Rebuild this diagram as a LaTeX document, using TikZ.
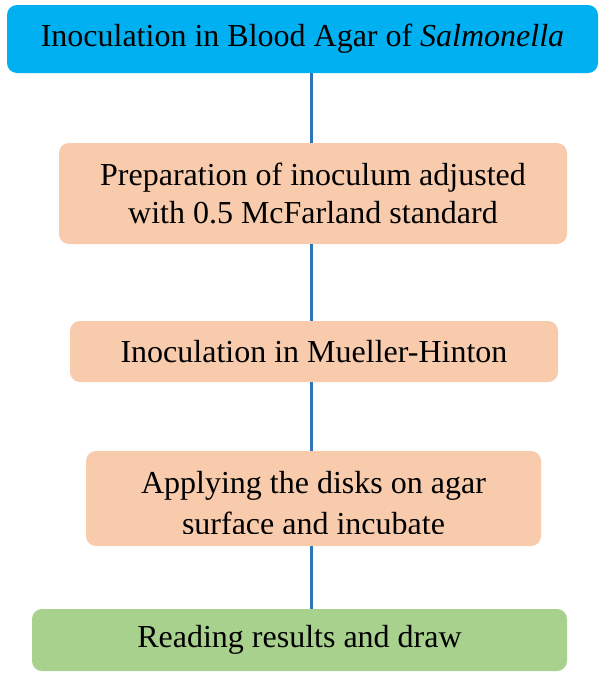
\documentclass[tikz,border=0pt]{standalone}
\usepackage{fontspec}
\setmainfont{Liberation Serif}
\definecolor{topblue}{HTML}{00B0F0}
\definecolor{peach}{HTML}{F8CBAD}
\definecolor{leaf}{HTML}{A9D18E}
\definecolor{linkblue}{HTML}{2E75B6}
\tikzset{
  box/.style={rounded corners=10pt, inner sep=0pt, align=center,
    font=\fontsize{32}{38}\selectfont, text=black},
  conn/.style={draw=linkblue, line width=3pt}
}
\begin{document}
\begin{tikzpicture}[x=1pt,y=-1pt]
\useasboundingbox (0,0) rectangle (599,673);
\coordinate (ax) at (311,0);
% boxes
\node[box, fill=topblue, minimum width=591pt, minimum height=68pt] (b1) at (302.5,39)
  {Inoculation in Blood Agar of \textit{Salmonella}};
\node[box, fill=peach, minimum width=508pt, minimum height=101pt] (b2) at (313,193.5)
  {Preparation of inoculum adjusted\\with 0.5 McFarland standard};
\node[box, fill=peach, minimum width=488pt, minimum height=61pt] (b3) at (314,351.5)
  {Inoculation in Mueller-Hinton};
\node[box, fill=peach, minimum width=455pt, minimum height=95pt] (b4) at (313.5,498.5) {};
\begin{scope}
  \clip (86,451) rectangle (541,533);
  \node[box, font=\fontsize{32}{41}\selectfont] (b4t) at (313.5,503.5)
    {Applying the disks on agar\\surface and incubate};
\end{scope}
\node[box, fill=leaf, minimum width=535pt, minimum height=62pt] (b5) at (299.5,640)
  {Reading results and draw};
% connectors
\draw[conn] (b1.south -| ax) -- (b2.north -| ax);
\draw[conn] (b2.south -| ax) -- (b3.north -| ax);
\draw[conn] (b3.south -| ax) -- (b4.north -| ax);
\draw[conn] (b4.south -| ax) -- (b5.north -| ax);
\end{tikzpicture}
\end{document}
